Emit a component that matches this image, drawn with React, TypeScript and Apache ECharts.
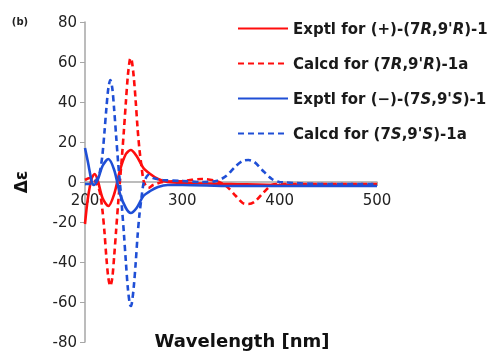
import React, { useEffect, useRef } from "react";
import * as echarts from "echarts";

// Wavelength (nm) and Δε values
const exptlPlusNm = [200, 203, 207, 210, 213, 218, 224, 230, 236, 242, 247, 253, 260, 267, 275, 285, 300, 350, 400, 450, 500];
const exptlPlusVal = [-21, -8, 2, 4, 1, -8, -12, -6, 6, 14, 16, 13, 7, 4, 1.5, 0, -0.5, -1, -1.5, -1.5, -1.5];

const calcdRNm = [200, 205, 210, 214, 216, 218, 220, 222, 224, 226, 228, 230, 232, 234, 236, 238, 240, 242, 244, 246, 247, 248, 250, 252, 254, 256, 258, 260, 262, 265, 270, 280, 300, 320, 335, 345, 355, 362, 368, 374, 382, 392, 400, 450, 500];
const calcdRVal = [1, 2, 0.5, -3, -7, -14.5, -25, -38, -48, -52, -48, -37, -24, -11, 1, 13, 26, 40, 53, 61, 62, 61, 53, 41, 27, 16, 8, 1, -1.5, -3, -1.5, 0, 0.5, 1.5, 0.5, -2, -7, -10.5, -11, -10, -6, -1.5, -1, -1, -1];

const exptlMinusNm = [200, 203, 207, 209, 213, 218, 224, 230, 236, 242, 247, 253, 260, 267, 275, 285, 300, 350, 400, 450, 500];
const exptlMinusVal = [17, 10, 0, -1.5, 1, 8, 11.5, 6, -6, -13, -15.5, -13, -7, -4.5, -2.5, -1.5, -1.5, -2, -2, -2, -2];

const calcdSNm = [200, 205, 210, 214, 216, 218, 220, 222, 224, 226, 228, 230, 232, 234, 236, 238, 240, 242, 244, 246, 247, 248, 250, 252, 254, 256, 258, 260, 262, 265, 270, 280, 300, 320, 335, 345, 355, 362, 368, 374, 382, 392, 400, 450, 500];
const calcdSVal = [-1, -1, 0, 3, 7, 14, 25, 37, 47, 51, 47, 36, 23, 10, -1, -13, -26, -40, -53, -61, -62, -61, -53, -41, -27, -16, -8, -1, 1.5, 3.5, 2, 1, 0.5, 0, 0.5, 3, 8, 10.5, 11, 10, 6, 1.5, 0, -1, -1];

const yTicks = { min: -80, max: 80, interval: 20 };
const xTicks = { min: 200, max: 500, interval: 100 };

const seriesNames = [
  "Exptl for (+)-(7R,9'R)-1",
  "Calcd for (7R,9'R)-1a",
  "Exptl for (−)-(7S,9'S)-1",
  "Calcd for (7S,9'S)-1a",
];
const legendRich = [
  "{n|Exptl for (+)-(7}{i|R}{n|,9'}{i|R}{n|)-1}",
  "{n|Calcd for (7}{i|R}{n|,9'}{i|R}{n|)-1a}",
  "{n|Exptl for (−)-(7}{i|S}{n|,9'}{i|S}{n|)-1}",
  "{n|Calcd for (7}{i|S}{n|,9'}{i|S}{n|)-1a}",
];

const RED = "#ff0d0d";
const BLUE = "#1f4fd6";

const zip = (xs: number[], ys: number[]) => xs.map((x, i) => [x, ys[i]]);

export default function App() {
  const ref = useRef<HTMLDivElement>(null);
  useEffect(() => {
    if (!ref.current) return;
    const chart = echarts.init(ref.current, undefined, { renderer: "svg" });
    const font = "DejaVu Sans";
    const mk = (name: string, data: number[][], color: string, dashed: boolean) => ({
      name,
      type: "line",
      data,
      smooth: 0.3,
      symbol: "none",
      lineStyle: { color, width: 2.6, type: dashed ? [6, 4] : "solid" },
      itemStyle: { color, opacity: 0 },
    });
    chart.setOption({
      animation: false,
      grid: { left: 85, right: 118, top: 22, bottom: 9, containLabel: false, outerBoundsMode: "none" },
      xAxis: {
        type: "value",
        position: "bottom",
        offset: -160,
        min: xTicks.min,
        max: xTicks.max,
        interval: xTicks.interval,
        axisLine: { onZero: false, lineStyle: { color: "#a6a6a6", width: 1.5 } },
        axisTick: { show: true, length: 4, lineStyle: { color: "#a6a6a6" } },
        axisLabel: { color: "#222", fontSize: 15, fontFamily: font, margin: 10 },
        splitLine: { show: false },
      },
      yAxis: {
        type: "value",
        min: yTicks.min,
        max: yTicks.max,
        interval: yTicks.interval,
        axisLine: { show: true, onZero: false, lineStyle: { color: "#a6a6a6", width: 1.5 } },
        axisTick: { show: true, length: 5, lineStyle: { color: "#a6a6a6" } },
        axisLabel: { color: "#222", fontSize: 15, fontFamily: font, margin: 8 },
        splitLine: { show: false },
      },
      legend: {
        orient: "vertical",
        left: 232,
        top: 16,
        itemWidth: 50,
        itemHeight: 14,
        itemGap: 20,
        data: seriesNames,
        itemStyle: { opacity: 0 },
        formatter: (name: string) => legendRich[seriesNames.indexOf(name)],
        textStyle: {
          rich: {
            n: { fontFamily: font, fontSize: 15, fontWeight: "bold", color: "#1a1a1a" },
            i: { fontFamily: font, fontSize: 15, fontWeight: "bold", fontStyle: "italic", color: "#1a1a1a" },
          },
        },
      },
      graphic: [
        {
          type: "text",
          x: 20,
          y: 21,
          style: { text: "(b)", font: "bold 10px DejaVu Sans", fill: "#222", align: "center", verticalAlign: "middle" },
        },
        {
          type: "text",
          x: 21,
          y: 182,
          rotation: Math.PI / 2,
          style: { text: "Δε", font: "bold 17px DejaVu Sans", fill: "#111", align: "center", verticalAlign: "middle" },
        },
        {
          type: "text",
          x: 242,
          y: 340,
          style: { text: "Wavelength [nm]", font: "bold 18px DejaVu Sans", fill: "#111", align: "center", verticalAlign: "middle" },
        },
      ],
      series: [
        mk(seriesNames[0], zip(exptlPlusNm, exptlPlusVal), RED, false),
        mk(seriesNames[1], zip(calcdRNm, calcdRVal), RED, true),
        mk(seriesNames[2], zip(exptlMinusNm, exptlMinusVal), BLUE, false),
        mk(seriesNames[3], zip(calcdSNm, calcdSVal), BLUE, true),
      ],
    });
    return () => chart.dispose();
  }, []);
  return <div ref={ref} style={{ position: "fixed", left: 0, top: 0, width: 495, height: 351 }} />;
}
